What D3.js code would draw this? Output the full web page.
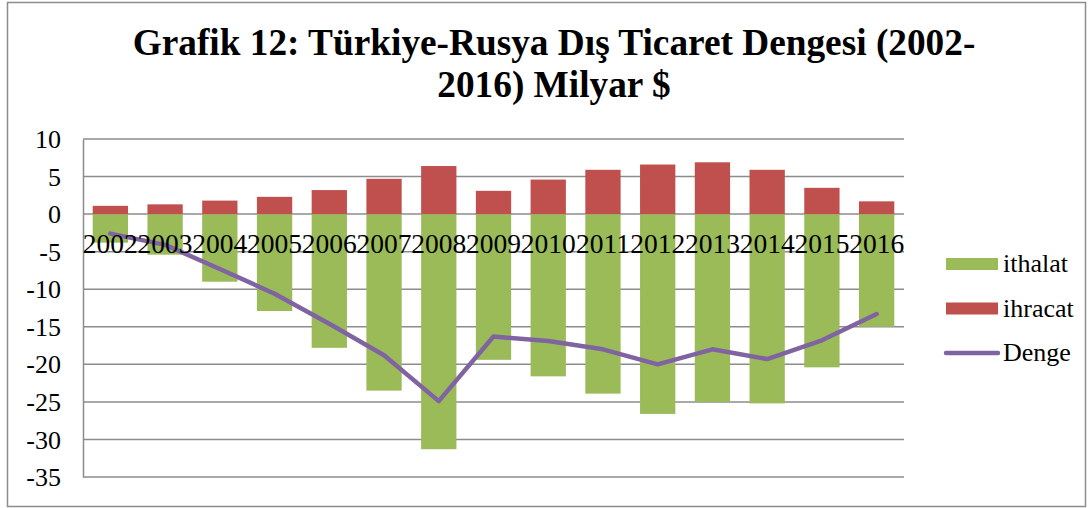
<!DOCTYPE html>
<html>
<head>
<meta charset="utf-8">
<script src="https://cdn.jsdelivr.net/npm/d3@7"></script>
<style>
    body { margin: 0; background: #fff; }
    svg { display: block; }
    svg text { font-family: "Liberation Serif", "Times New Roman", serif !important; fill: #000; }
</style>
</head>
<body>
<script>
    'use strict';

    /* data */

    var years = ['2002', '2003', '2004', '2005', '2006', '2007', '2008', '2009',
        '2010', '2011', '2012', '2013', '2014', '2015', '2016'];
    var ithalat = [-3.8, -5.4, -9.0, -12.9, -17.8, -23.5, -31.3, -19.4,
        -21.6, -23.9, -26.6, -25.0, -25.2, -20.4, -15.0];
    var ihracat = [1.1, 1.3, 1.8, 2.3, 3.2, 4.7, 6.4, 3.1,
        4.6, 5.9, 6.6, 6.9, 5.9, 3.5, 1.7];
    var denge = [-2.6, -4.1, -7.3, -10.6, -14.6, -18.8, -24.9, -16.3,
        -16.9, -18.0, -20.0, -18.0, -19.3, -16.8, -13.3];
    var yTicks = [10, 5, 0, -5, -10, -15, -20, -25, -30, -35];
    var titleLines = ['Grafik 12: Türkiye-Rusya Dış Ticaret Dengesi (2002-', '2016) Milyar $'];

    var colors = { ithalat: '#9BBB59', ihracat: '#C0504D', denge: '#8064A2' };
    var serif = '"Liberation Serif", "Times New Roman", serif';

    /* layout */

    var width = 1090, height = 508;
    var plot = { left: 83, right: 904, top: 139, bottom: 477 };

    var svg = d3.select('body').append('svg')
        .attr('width', width)
        .attr('height', height);

    // outer frame
    svg.append('rect')
        .attr('x', 7.5).attr('y', 2.5)
        .attr('width', 1078).attr('height', 504)
        .attr('fill', '#fff')
        .attr('stroke', '#8c8c8c')
        .attr('stroke-width', 1.5);

    /* title */

    svg.append('g').selectAll('text')
        .data(titleLines)
        .enter()
        .append('text')
        .attr('x', 554)
        .attr('y', function (d, i) { return 55 + i * 42; })
        .attr('text-anchor', 'middle')
        .style('font-family', serif)
        .style('font-size', '37.3px')
        .style('font-weight', 'bold')
        .text(function (d) { return d; });

    /* scales */

    var x = d3.scaleBand()
        .domain(years)
        .range([plot.left, plot.right])
        .paddingInner(0.355)
        .paddingOuter(0.1775);

    var y = d3.scaleLinear()
        .domain([-35, 10])
        .range([plot.bottom, plot.top]);

    /* grid */

    svg.append('g').selectAll('line')
        .data(yTicks)
        .enter()
        .append('line')
        .attr('x1', plot.left).attr('x2', plot.right)
        .attr('y1', function (d) { return y(d); })
        .attr('y2', function (d) { return y(d); })
        .attr('stroke', '#8c8c8c')
        .attr('stroke-width', 1.5);

    // y axis, plain hyphen for negatives like the original
    var yAxis = svg.append('g')
        .attr('transform', 'translate(' + plot.left + ',0)')
        .call(d3.axisLeft(y)
            .tickValues(yTicks)
            .tickFormat(function (d) { return String(d); })
            .tickSize(0)
            .tickPadding(22));
    yAxis.attr('font-family', null).attr('font-size', null);
    yAxis.select('.domain').attr('stroke', '#8c8c8c').attr('stroke-width', 1.5);
    yAxis.selectAll('text')
        .style('font-family', serif)
        .style('font-size', '26px')
        .attr('fill', '#000')
        .attr('dy', '0.33em');

    /* bars */

    function drawBars(values, color) {
        svg.append('g').selectAll('rect')
            .data(values)
            .enter()
            .append('rect')
            .attr('x', function (d, i) { return x(years[i]); })
            .attr('width', x.bandwidth())
            .attr('y', function (d) { return y(Math.max(0, d)); })
            .attr('height', function (d) { return Math.abs(y(d) - y(0)); })
            .attr('fill', color);
    }
    drawBars(ithalat, colors.ithalat);
    drawBars(ihracat, colors.ihracat);

    /* balance line */

    var line = d3.line()
        .x(function (d, i) { return x(years[i]) + x.bandwidth() / 2; })
        .y(function (d) { return y(d); });

    svg.append('path')
        .datum(denge)
        .attr('d', line)
        .attr('fill', 'none')
        .attr('stroke', colors.denge)
        .attr('stroke-width', 4.5)
        .attr('stroke-linejoin', 'round')
        .attr('stroke-linecap', 'round');

    /* category labels (drawn on top, Excel style) */

    svg.append('g').selectAll('text')
        .data(years)
        .enter()
        .append('text')
        .attr('x', function (d) { return x(d) + x.bandwidth() / 2; })
        .attr('y', 253)
        .attr('text-anchor', 'middle')
        .style('font-family', serif)
        .style('font-size', '27.5px')
        .text(function (d) { return d; });

    /* legend */

    var legendItems = [
        { name: 'ithalat', color: colors.ithalat, type: 'rect' },
        { name: 'ihracat', color: colors.ihracat, type: 'rect' },
        { name: 'Denge', color: colors.denge, type: 'line' }
    ];

    var legend = svg.append('g').selectAll('g')
        .data(legendItems)
        .enter()
        .append('g')
        .attr('transform', function (d, i) { return 'translate(946,' + (264 + i * 44.5) + ')'; });

    legend.filter(function (d) { return d.type === 'rect'; })
        .append('rect')
        .attr('x', 0).attr('y', -6)
        .attr('width', 52).attr('height', 12)
        .attr('fill', function (d) { return d.color; });

    legend.filter(function (d) { return d.type === 'line'; })
        .append('line')
        .attr('x1', 0).attr('x2', 52)
        .attr('stroke', function (d) { return d.color; })
        .attr('stroke-width', 4.5)
        .attr('stroke-linecap', 'round');

    legend.append('text')
        .attr('x', 57)
        .attr('y', 8)
        .style('font-family', serif)
        .style('font-size', '26px')
        .text(function (d) { return d.name; });
</script>
</body>
</html>
